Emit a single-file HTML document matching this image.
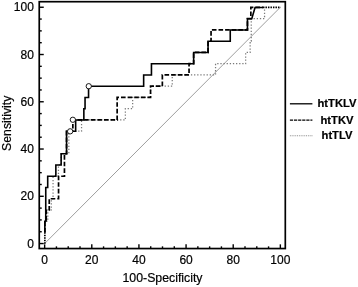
<!DOCTYPE html>
<html><head><meta charset="utf-8"><title>ROC curves</title>
<style>
html,body{margin:0;padding:0;background:#fff;}
svg{display:block;}
text{font-family:"Liberation Sans",Arial,sans-serif;fill:#000;stroke:#000;stroke-width:0.2px;}
</style></head>
<body>
<svg width="358" height="287" viewBox="0 0 358 287">
<rect width="358" height="287" fill="#fff"/>
<line x1="44.65" y1="243.55" x2="280.35" y2="7.25" stroke="#5c5c5c" stroke-width="0.6"/>
<g transform="translate(0.25 0.2)">
<path d="M44.60 232.30 V221.05 H47.60 V209.79 H51.10 V198.54 H52.80 V176.04 H58.20 V164.78 H60.90 V153.53 H68.60 V131.03 H81.30 V119.77 H125.10 V108.52 H132.40 V97.27 H150.30 V86.02 H172.00 V74.76 H215.30 V63.51 H245.40 V52.26 H249.90 V41.01 H251.00 V18.50 H264.30 V7.25" fill="none" stroke="#7a7a7a" stroke-width="1.25" stroke-dasharray="1.3 1.83"/>
<path d="M44.60 232.30 V221.05 H46.00 V209.79 H49.00 V198.54 H58.30 V176.04 H64.20 V153.53 H66.30 V131.03 H72.60 V119.77 H116.90 V97.27 H150.30 V86.02 H162.10 V74.76 H188.80 V63.51 H193.40 V52.26 H207.80 V41.01 H210.80 V29.75 H247.20 V18.50 H250.60 V7.25 H262.70" fill="none" stroke="#000" stroke-width="1.7" stroke-dasharray="4.6 2"/>
<path d="M44.60 232.30 V221.05 H45.50 V187.29 H47.45 V176.04 H55.60 V164.78 H60.90 V153.53 H66.30 V131.03 H75.40 V119.77 H83.60 V108.52 H84.80 V97.27 H88.30 V86.02 H143.40 V74.76 H151.20 V63.51 H193.40 V52.26 H207.80 V41.01 H230.00 V29.75 H247.20 V18.50 H251.50 L254.80 7.25 H262.70" fill="none" stroke="#000" stroke-width="1.6" stroke-linejoin="miter"/>
<path d="M44.6 243.55 V232.30" fill="none" stroke="#000" stroke-width="1.7" stroke-dasharray="1.5 1"/>
<path d="M262.7 7.25 H280.35" fill="none" stroke="#000" stroke-width="1.7" stroke-dasharray="1.5 1"/>
<g fill="#fff" stroke="#000" stroke-width="0.9">
<circle cx="88.5" cy="86.02" r="2.65"/>
<circle cx="72.6" cy="119.57" r="2.65"/>
<circle cx="69.9" cy="131.13" r="2.65"/>
</g>
</g>
<g stroke="#000" stroke-width="1.4">
<line x1="39.25" y1="243.55" x2="43.75" y2="243.55"/>
<line x1="44.65" y1="248.55" x2="44.65" y2="244.35"/>
<line x1="39.25" y1="231.74" x2="41.75" y2="231.74"/>
<line x1="56.44" y1="248.55" x2="56.44" y2="246.35"/>
<line x1="39.25" y1="219.92" x2="41.75" y2="219.92"/>
<line x1="68.22" y1="248.55" x2="68.22" y2="246.35"/>
<line x1="39.25" y1="208.11" x2="41.75" y2="208.11"/>
<line x1="80.00" y1="248.55" x2="80.00" y2="246.35"/>
<line x1="39.25" y1="196.29" x2="43.75" y2="196.29"/>
<line x1="91.79" y1="248.55" x2="91.79" y2="244.35"/>
<line x1="39.25" y1="184.48" x2="41.75" y2="184.48"/>
<line x1="103.57" y1="248.55" x2="103.57" y2="246.35"/>
<line x1="39.25" y1="172.66" x2="41.75" y2="172.66"/>
<line x1="115.36" y1="248.55" x2="115.36" y2="246.35"/>
<line x1="39.25" y1="160.85" x2="41.75" y2="160.85"/>
<line x1="127.15" y1="248.55" x2="127.15" y2="246.35"/>
<line x1="39.25" y1="149.03" x2="43.75" y2="149.03"/>
<line x1="138.93" y1="248.55" x2="138.93" y2="244.35"/>
<line x1="39.25" y1="137.22" x2="41.75" y2="137.22"/>
<line x1="150.72" y1="248.55" x2="150.72" y2="246.35"/>
<line x1="39.25" y1="125.40" x2="41.75" y2="125.40"/>
<line x1="162.50" y1="248.55" x2="162.50" y2="246.35"/>
<line x1="39.25" y1="113.59" x2="41.75" y2="113.59"/>
<line x1="174.29" y1="248.55" x2="174.29" y2="246.35"/>
<line x1="39.25" y1="101.77" x2="43.75" y2="101.77"/>
<line x1="186.07" y1="248.55" x2="186.07" y2="244.35"/>
<line x1="39.25" y1="89.96" x2="41.75" y2="89.96"/>
<line x1="197.86" y1="248.55" x2="197.86" y2="246.35"/>
<line x1="39.25" y1="78.14" x2="41.75" y2="78.14"/>
<line x1="209.64" y1="248.55" x2="209.64" y2="246.35"/>
<line x1="39.25" y1="66.33" x2="41.75" y2="66.33"/>
<line x1="221.43" y1="248.55" x2="221.43" y2="246.35"/>
<line x1="39.25" y1="54.51" x2="43.75" y2="54.51"/>
<line x1="233.21" y1="248.55" x2="233.21" y2="244.35"/>
<line x1="39.25" y1="42.70" x2="41.75" y2="42.70"/>
<line x1="245.00" y1="248.55" x2="245.00" y2="246.35"/>
<line x1="39.25" y1="30.88" x2="41.75" y2="30.88"/>
<line x1="256.78" y1="248.55" x2="256.78" y2="246.35"/>
<line x1="39.25" y1="19.06" x2="41.75" y2="19.06"/>
<line x1="268.56" y1="248.55" x2="268.56" y2="246.35"/>
<line x1="39.25" y1="7.25" x2="43.75" y2="7.25"/>
<line x1="280.35" y1="248.55" x2="280.35" y2="244.35"/>
</g>
<rect x="39.25" y="1.7" width="246.05" height="246.85" fill="none" stroke="#000" stroke-width="1.7"/>
<g font-size="12">
<text x="33.9" y="247.75" text-anchor="end">0</text>
<text x="44.65" y="263.6" text-anchor="middle">0</text>
<text x="33.9" y="200.49" text-anchor="end">20</text>
<text x="91.79" y="263.6" text-anchor="middle">20</text>
<text x="33.9" y="153.23" text-anchor="end">40</text>
<text x="138.93" y="263.6" text-anchor="middle">40</text>
<text x="33.9" y="105.97" text-anchor="end">60</text>
<text x="186.07" y="263.6" text-anchor="middle">60</text>
<text x="33.9" y="58.71" text-anchor="end">80</text>
<text x="233.21" y="263.6" text-anchor="middle">80</text>
<text x="33.9" y="11.45" text-anchor="end">100</text>
<text x="280.35" y="263.6" text-anchor="middle">100</text>
<text x="162.5" y="282" text-anchor="middle" font-size="12.3">100-Specificity</text>
<text transform="translate(10.5 123.3) rotate(-90)" text-anchor="middle" font-size="12.25">Sensitivity</text>
</g>
<g stroke="#000" fill="none">
<line x1="289.9" y1="103.8" x2="312.4" y2="103.8" stroke-width="1.3"/>
<line x1="289.9" y1="120.1" x2="312.4" y2="120.1" stroke-width="1.3" stroke-dasharray="3.2 0.9"/>
<line x1="289.9" y1="135.7" x2="312.4" y2="135.7" stroke="#888" stroke-width="1.1" stroke-dasharray="0.9 0.9"/>
</g>
<g font-size="11.2" font-weight="bold" text-anchor="middle">
<text x="337" y="107.2">htTKLV</text>
<text x="337" y="123.5">htTKV</text>
<text x="337" y="138.8">htTLV</text>
</g>
</svg>
</body></html>
